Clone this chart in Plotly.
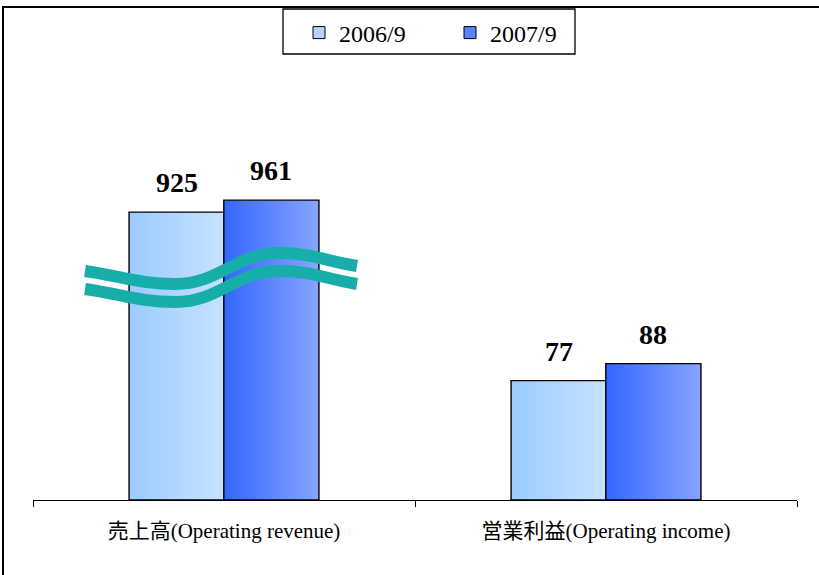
import plotly.graph_objects as go

# ---------------- data ----------------
categories = ["売上高(Operating revenue)", "営業利益(Operating income)"]
series_names = ["2006/9", "2007/9"]
values_2006 = [925, 77]
values_2007 = [961, 88]

# broken value axis: values above BREAK_AT are drawn compressed
BREAK_AT = 150
BREAK_RESUME = 758
COMPRESS = 0.214


def shown(v):
    if v <= BREAK_AT:
        return v
    return BREAK_AT + (v - BREAK_RESUME) * COMPRESS


# ---------------- styling ----------------
W, H = 819, 575
PL, PR, PT, PB = 33, 797, 60, 500      # plot area in pixels
PX_PER_UNIT = 1.55
Y_TOP = (PB - PT) / PX_PER_UNIT

BAR_W = 0.249
OFFSETS = [-0.124, 0.124]
GRADIENTS = [("#9CCBFF", "#C6E2FF"), ("#3366FF", "#88A4FF")]
LEGEND_COLORS = ["#B0D6FF", "#5A82FF"]
SERIF = "Liberation Serif, 'Times New Roman', 'Noto Sans CJK JP', serif"

fig = go.Figure()

series_values = [values_2006, values_2007]
annotations = []
for s, (name, vals) in enumerate(zip(series_names, series_values)):
    for c, v in enumerate(vals):
        xc = c + OFFSETS[s]
        x0, x1 = xc - BAR_W / 2, xc + BAR_W / 2
        h = shown(v)
        fig.add_trace(go.Scatter(
            x=[x0, x0, x1, x1, x0], y=[0, h, h, 0, 0],
            mode="lines", fill="toself",
            fillgradient=dict(type="horizontal",
                              colorscale=[[0, GRADIENTS[s][0]], [1, GRADIENTS[s][1]]]),
            line=dict(color="black", width=1.4),
            showlegend=False, hoverinfo="skip",
        ))
        annotations.append(dict(
            x=xc, y=h, xref="x", yref="y", text=f"<b>{v}</b>",
            showarrow=False, yanchor="bottom", yshift=12,
            font=dict(family=SERIF, size=28, color="black"),
        ))
    # legend entry
    fig.add_trace(go.Bar(
        x=[None], y=[None], name=name,
        marker=dict(color=LEGEND_COLORS[s], line=dict(color="black", width=1)),
    ))


def pp(px, py):
    return f"{px / W:.5f},{1 - py / H:.5f}"


def wave(dy):
    pts = [(85, 271 + dy), (175, 284 + dy), (280, 253 + dy), (357, 266 + dy)]
    p0, p1, p2, p3 = pts
    return (f"M {pp(*p0)} "
            f"C {pp(p0[0] + 35, p0[1] + 5)} {pp(p1[0] - 35, p1[1])} {pp(*p1)} "
            f"C {pp(p1[0] + 45, p1[1])} {pp(p2[0] - 45, p2[1])} {pp(*p2)} "
            f"C {pp(p2[0] + 30, p2[1])} {pp(p3[0] - 30, p3[1] - 5)} {pp(*p3)}")


shapes = [
    dict(type="path", xref="paper", yref="paper", path=wave(0),
         line=dict(color="#17ADA8", width=12), layer="above"),
    dict(type="path", xref="paper", yref="paper", path=wave(18),
         line=dict(color="#17ADA8", width=12), layer="above"),
    # outer chart border (cropped at right / bottom)
    dict(type="rect", xref="paper", yref="paper",
         x0=3 / W, x1=1.05, y0=-0.05, y1=1 - 7 / H,
         line=dict(color="black", width=2), fillcolor="rgba(0,0,0,0)"),
    # legend box
    dict(type="rect", xref="paper", yref="paper",
         x0=283 / W, x1=575 / W, y0=1 - 54 / H, y1=1 - 9 / H,
         line=dict(color="black", width=1.3), fillcolor="rgba(0,0,0,0)"),
]

fig.update_layout(
    width=W, height=H,
    margin=dict(l=0, r=0, t=0, b=0),
    paper_bgcolor="white", plot_bgcolor="white",
    showlegend=True,
    legend=dict(orientation="h", x=299 / W, y=1 - 33 / H,
                xanchor="left", yanchor="middle",
                borderwidth=0, bgcolor="rgba(0,0,0,0)",
                font=dict(family=SERIF, size=24, color="black"),
                entrywidth=106),
    xaxis=dict(domain=[PL / W, PR / W], range=[-0.5, 1.5],
               tickvals=[0, 1], ticktext=categories, ticks="",
               showline=True, linecolor="black", linewidth=1,
               showgrid=False, zeroline=False,
               minor=dict(tickvals=[-0.5, 0.5, 1.5], ticks="outside",
                          ticklen=6, tickcolor="black", tickwidth=1, showgrid=False),
               tickfont=dict(family=SERIF, size=21, color="black"),
               ticklabelstandoff=12, fixedrange=True),
    yaxis=dict(domain=[1 - PB / H, 1 - PT / H], range=[0, Y_TOP],
               visible=False, fixedrange=True),
    annotations=annotations,
    shapes=shapes,
)

fig.write_html("out.html", config={"displayModeBar": False},
               post_script="document.body.style.margin='0';document.body.style.overflow='hidden';")
